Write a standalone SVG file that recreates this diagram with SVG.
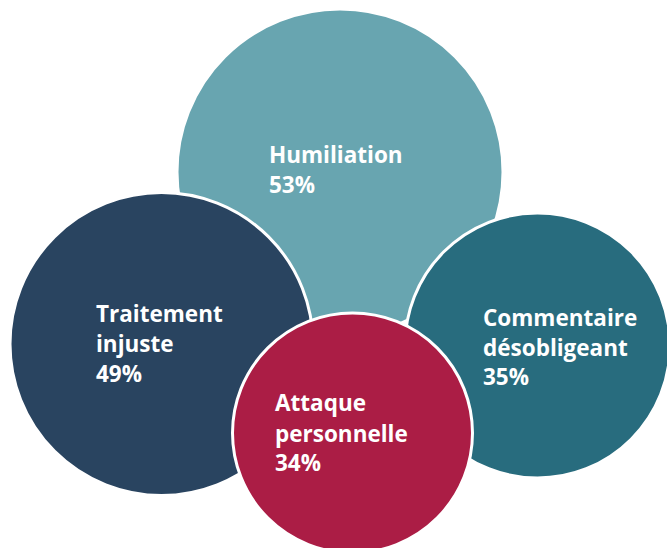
<svg xmlns="http://www.w3.org/2000/svg" width="667" height="548" viewBox="0 0 667 548">
<style>
.c{stroke:#fff;stroke-width:3}
.t{font-family:"Open Sans","Liberation Sans",sans-serif;font-weight:bold;font-size:22.5px;fill:#fff}
</style>
<rect width="667" height="548" fill="#fff"/>
<g id="humiliation">
<circle class="c" cx="340" cy="172" r="163" fill="#68A5B0"/>
<text class="t"><tspan x="269" y="163">Humiliation</tspan><tspan x="269" y="193">53%</tspan></text>
</g>
<g id="traitement">
<circle class="c" cx="161.5" cy="344" r="151.5" fill="#294460"/>
<text class="t"><tspan x="96" y="322">Traitement</tspan><tspan x="96" y="352">injuste</tspan><tspan x="96" y="382">49%</tspan></text>
</g>
<g id="commentaire">
<circle class="c" cx="537.5" cy="345.5" r="132.5" fill="#286C7E"/>
<text class="t"><tspan x="483" y="326">Commentaire</tspan><tspan x="483" y="356">désobligeant</tspan><tspan x="483" y="385">35%</tspan></text>
</g>
<g id="attaque">
<circle class="c" cx="352.5" cy="433" r="120" fill="#AB1D45"/>
<text class="t"><tspan x="275" y="411">Attaque</tspan><tspan x="275" y="442">personnelle</tspan><tspan x="275" y="471">34%</tspan></text>
</g>
<g id="connectors"/>
</svg>
